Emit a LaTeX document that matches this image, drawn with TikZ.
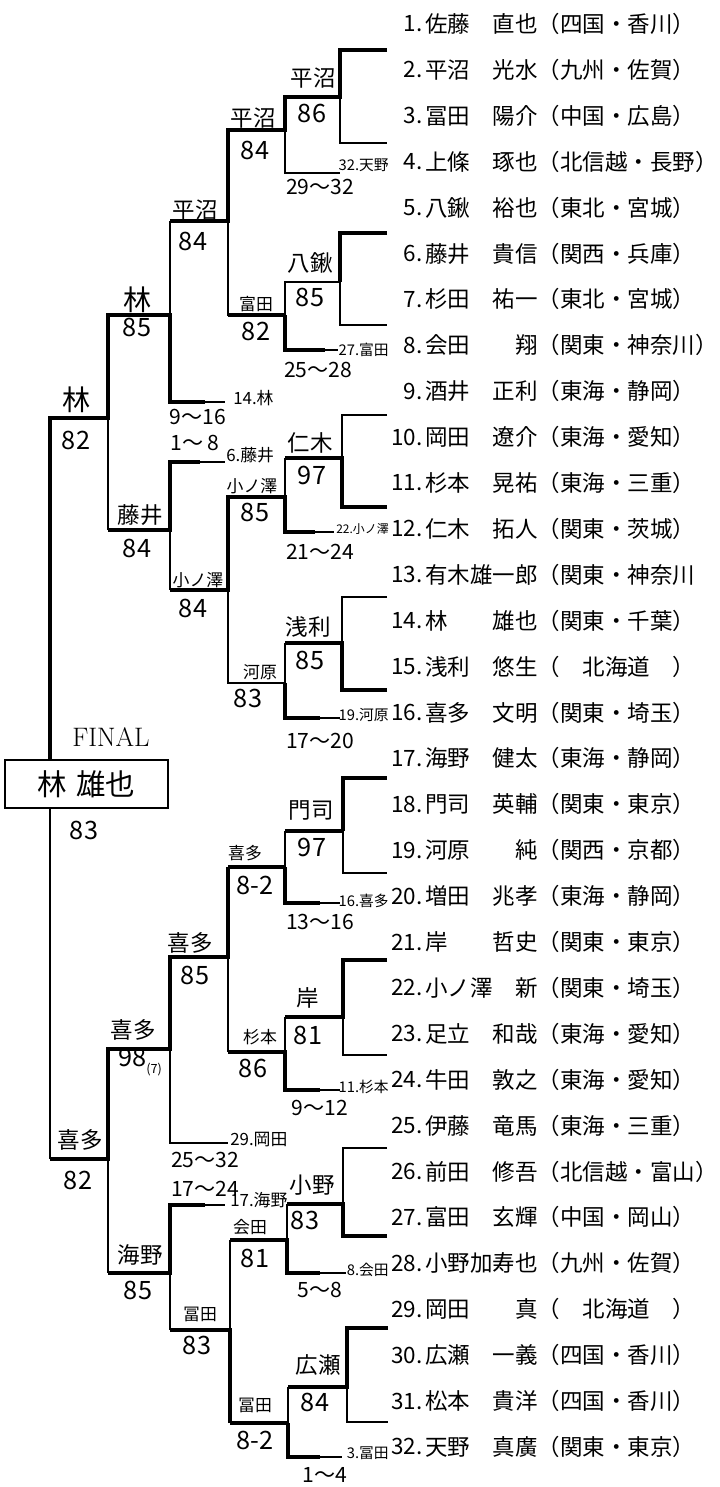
\documentclass[tikz,border=0pt]{standalone}
\usepackage{fontspec}
\newfontfamily\jp{Noto Sans CJK JP}

\begin{document}
\begin{tikzpicture}[
        x=0.025cm, y=-0.025cm,
        winln/.style = {line width=3.4pt},
        midln/.style = {line width=2.2pt},
        loseln/.style = {line width=1.2pt},
        hwb/.style = {font=\jp\fontsize{20}{20}\selectfont, inner sep=0pt},
        hw/.style = {font=\jp\fontsize{16}{16}\selectfont, inner sep=0pt},
        hws/.style = {font=\jp\fontsize{12}{12}\selectfont, inner sep=0pt},
        score/.style = {font=\jp\fontsize{18}{18}\selectfont, inner sep=0pt},
        rng/.style = {font=\jp\fontsize{15}{15}\selectfont, inner sep=0pt},
        seed/.style = {font=\jp\fontsize{10.5}{10.5}\selectfont, inner sep=0pt, anchor=east},
        seedl/.style = {font=\jp\fontsize{12}{12}\selectfont, inner sep=0pt, anchor=west},
        entry/.style = {font=\jp\fontsize{16}{16}\selectfont, inner sep=0pt, anchor=west},
        num/.style = {font=\jp\fontsize{16}{16}\selectfont, inner sep=0pt, anchor=east}
        ]

        \useasboundingbox (0,0) rectangle (720,1487);

        \foreach \who [count=\i] in {佐藤　直也（四国・香川）, 平沼　光水（九州・佐賀）, 冨田　陽介（中国・広島）,
            上條　琢也（北信越・長野）, 八鍬　裕也（東北・宮城）, 藤井　貴信（関西・兵庫）, 杉田　祐一（東北・宮城）,
            会田　　翔（関東・神奈川）, 酒井　正利（東海・静岡）, 岡田　遼介（東海・愛知）, 杉本　晃祐（東海・三重）,
            仁木　拓人（関東・茨城）, 有木雄一郎（関東・神奈川, 林　　雄也（関東・千葉）, 浅利　悠生（　北海道　）,
            喜多　文明（関東・埼玉）, 海野　健太（東海・静岡）, 門司　英輔（関東・東京）, 河原　　純（関西・京都）,
            増田　兆孝（東海・静岡）, 岸　　哲史（関東・東京）, 小ノ澤　新（関東・埼玉）, 足立　和哉（東海・愛知）,
            牛田　敦之（東海・愛知）, 伊藤　竜馬（東海・三重）, 前田　修吾（北信越・富山）, 富田　玄輝（中国・岡山）,
            小野加寿也（九州・佐賀）, 岡田　　真（　北海道　）, 広瀬　一義（四国・香川）, 松本　貴洋（四国・香川）,
            天野　真廣（関東・東京）} {
            \node (no\i) at (423, {24+45.9*(\i-1)}) [num] {\i.};
            \node (pl\i) at (425, {24+45.9*(\i-1)}) [entry] {\who};
        }

        \draw[winln] (387,50) -| (340,97) -- (285,97) -- (285,130) -- (228,130) -- (228,221) -- (170,221);
        \draw[loseln] (340,97) |- (387,143);
        \draw[loseln] (285,130) |- (340,173);
        \draw[loseln] (228,221) |- (285,315);
        \draw[winln] (387,233) -| (340,282);
        \draw[loseln] (340,282) |- (387,325);
        \draw[loseln] (340,282) -- (285,282) -- (285,315);
        \draw[winln] (325,350) -| (285,315);
        \draw[midln] (285,315) -- (228,315);
        \draw[loseln] (325,350) -- (338,350);
        \draw[winln] (205,402) -| (170,315) -- (108,315) -- (108,418) -- (50,418) -- (50,760);
        \draw[loseln] (205,402) -- (225,402);
        \draw[loseln] (170,221) -- (170,315);
        \draw[loseln] (108,418) -- (108,530);
        \draw[winln] (200,462) -| (170,530) -- (108,530);
        \draw[loseln] (200,462) -- (225,462);
        \draw[loseln] (170,530) -- (170,590);
        \draw[winln] (315,532) -| (285,497) -- (228,497) -- (228,590) -- (170,590);
        \draw[loseln] (315,532) -- (334,532);
        \draw[loseln] (387,415) -| (342,458);
        \draw[winln] (387,507) -| (342,458) -- (285,458);
        \draw[loseln] (285,458) -- (285,497);
        \draw[loseln] (387,597) -| (342,643);
        \draw[winln] (387,690) -| (342,643) -- (285,643);
        \draw[loseln] (285,643) -- (285,683);
        \draw[winln] (320,718) -| (285,683);
        \draw[loseln] (320,718) -- (340,718);
        \draw[loseln] (285,683) -- (228,683) -- (228,590);

        \node (final) at (111,737) [font=\fontsize{19}{19}\selectfont] {FINAL};
        \node (champ) at (86.5,784) [draw, line width=0.9pt, minimum width=4.075cm, minimum height=1.2cm,
            font=\jp\fontsize{21}{21}\selectfont] {林\hspace{0.3em}雄也};
        \node (champsc) at (84,830) [score] {83};
        \draw[loseln] (50,808) -- (50,1159);

        \draw[winln] (387,778) -| (343,831);
        \draw[loseln] (343,831) |- (387,873);
        \draw[midln] (343,831) -- (285,831);
        \draw[loseln] (285,831) -- (285,867);
        \draw[winln] (320,903) -| (285,867);
        \draw[loseln] (320,903) -- (340,903);
        \draw[midln] (285,867) -- (228,867);
        \draw[winln] (228,867) -- (228,957) -- (170,957) -- (170,1049) -- (108,1049) -- (108,1159) -- (50,1159);
        \draw[loseln] (228,957) -- (228,1052);
        \draw[winln] (387,960) -| (343,1017) -- (285,1017);
        \draw[loseln] (343,1017) |- (387,1055);
        \draw[loseln] (285,1017) -- (285,1052);
        \draw[winln] (320,1090) -| (285,1052) -- (228,1052);
        \draw[loseln] (320,1090) -- (340,1090);
        \draw[loseln] (170,1049) |- (228,1143);
        \draw[loseln] (108,1159) -- (108,1273);
        \draw[winln] (205,1205) -| (170,1273) -- (108,1273);
        \draw[loseln] (205,1205) -- (225,1205);
        \draw[loseln] (170,1273) -- (170,1330);
        \draw[loseln] (387,1148) -| (343,1204);
        \draw[winln] (387,1236) -| (343,1204) -- (287,1204);
        \draw[loseln] (287,1204) -- (287,1240);
        \draw[winln] (320,1273) -| (287,1240) -- (230,1240);
        \draw[loseln] (320,1273) -- (346,1273);
        \draw[loseln] (230,1240) -- (230,1330);
        \draw[winln] (388,1328) -| (347,1387) -- (288,1387);
        \draw[loseln] (347,1387) |- (388,1422);
        \draw[loseln] (288,1387) -- (288,1423);
        \draw[winln] (320,1457) -| (288,1423);
        \draw[midln] (288,1423) -- (230,1423);
        \draw[winln] (230,1423) -- (230,1330) -- (170,1330);
        \draw[loseln] (320,1457) -- (342,1457);

        \node (na1) at (313,78) [hw] {平沼};
        \node (sa1) at (312,113) [score] {86};
        \node (na2) at (253,118) [hw] {平沼};
        \node (sa2) at (255,150) [score] {84};
        \node (na3) at (195,210) [hw] {平沼};
        \node (sa3) at (193,241) [score] {84};
        \node (nb1) at (310,263) [hw] {八鍬};
        \node (sb1) at (310,297) [score] {85};
        \node (nb2) at (256,304) [hws] {富田};
        \node (sb2) at (256,331) [score] {82};
        \node (ka) at (389,165) [seed] {32.天野};
        \node (ra) at (320,187) [rng] {29～32};
        \node (kb) at (389,350) [seed] {27.富田};
        \node (rb) at (318,370) [rng] {25～28};
        \node (nt1) at (138,300) [hwb] {林};
        \node (st1) at (137,327) [score] {85};
        \node (kt1) at (233,398) [seedl] {14.林};
        \node (rt1) at (198,417) [rng] {9～16};
        \node (nt2) at (77,400) [hwb] {林};
        \node (st2) at (76,440) [score] {82};
        \node (rt2) at (195,443) [rng] {1～\,8};
        \node (kt2) at (226,455) [seedl] {6.藤井};
        \node (nt3) at (140,515) [hw] {藤井};
        \node (st3) at (137,548) [score] {84};
        \node (nc1) at (310,443) [hw] {仁木};
        \node (sc1) at (312,475) [score] {97};
        \node (nc2) at (252,486) [hws] {小ノ澤};
        \node (sc2) at (255,512) [score] {85};
        \node (kc) at (389,529) [seed, font=\jp\fontsize{8.5}{8.5}\selectfont] {22.小ノ澤};
        \node (rc) at (320,552) [rng] {21～24};
        \node (nt4) at (198,580) [hws] {小ノ澤};
        \node (st4) at (193,608) [score] {84};
        \node (nd1) at (308,627) [hw] {浅利};
        \node (sd1) at (310,660) [score] {85};
        \node (nd2) at (260,672) [hws] {河原};
        \node (sd2) at (248,698) [score] {83};
        \node (kd) at (389,715) [seed] {19.河原};
        \node (rd) at (320,741) [rng] {17～20};

        \node (ne1) at (311,810) [hw] {門司};
        \node (se1) at (312,847) [score] {97};
        \node (ne2) at (245,853) [hws] {喜多};
        \node (se2) at (255,885) [score] {8-2};
        \node (ke) at (389,901) [seed] {16.喜多};
        \node (re) at (320,922) [rng] {13～16};
        \node (nu1) at (190,943) [hw] {喜多};
        \node (su1) at (195,975) [score] {85};
        \node (nf1) at (308,998) [hw] {岸};
        \node (sf1) at (308,1035) [score] {81};
        \node (nf2) at (260,1037) [hws] {杉本};
        \node (sf2) at (253,1068) [score] {86};
        \node (kf) at (389,1087) [seed] {11.杉本};
        \node (rf) at (320,1108) [rng] {9～12};
        \node (nu2) at (133,1030) [hw] {喜多};
        \node (su2) at (140,1062) [score] {98\raisebox{-5pt}{\fontsize{9}{9}\selectfont(7)}};
        \node (ku2) at (230,1140) [seedl] {29.岡田};
        \node (ru2) at (205,1160) [rng] {25～32};
        \node (nu3) at (80,1140) [hw] {喜多};
        \node (su3) at (78,1180) [score] {82};
        \node (ru4) at (205,1189) [rng] {17～24};
        \node (ku4) at (230,1200) [seedl] {17.海野};
        \node (ng1) at (312,1185) [hw] {小野};
        \node (sg1) at (305,1220) [score] {83};
        \node (ng2) at (250,1227) [hws] {会田};
        \node (sg2) at (255,1258) [score] {81};
        \node (kg) at (389,1270) [seed] {8.会田};
        \node (rg) at (320,1290) [rng] {5～8};
        \node (nu4) at (140,1255) [hw] {海野};
        \node (su4) at (138,1290) [score] {85};
        \node (nu5) at (200,1314) [hws] {冨田};
        \node (su5) at (197,1345) [score] {83};
        \node (nh1) at (318,1365) [hw] {広瀬};
        \node (sh1) at (315,1402) [score] {84};
        \node (nh2) at (255,1405) [hws] {冨田};
        \node (sh2) at (255,1440) [score] {8-2};
        \node (kh) at (389,1453) [seed] {3.冨田};
        \node (rh) at (325,1475) [rng] {1～4};
    \end{tikzpicture}
\end{document}
